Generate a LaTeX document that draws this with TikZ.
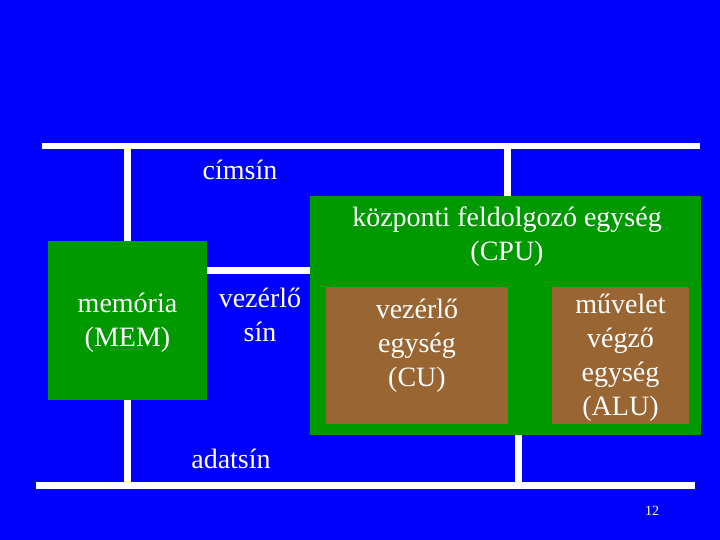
\documentclass[tikz,border=0pt]{standalone}
\usepackage{fontspec}
\setmainfont{Liberation Serif}
\usetikzlibrary{positioning}
\definecolor{slideblue}{RGB}{0,0,255}
\definecolor{unitgreen}{RGB}{0,153,0}
\definecolor{unitbrown}{RGB}{153,102,51}

\begin{document}
\begin{tikzpicture}[x=1pt,y=-1pt,
  unit/.style={fill=unitgreen,draw=none,inner sep=0pt,text=white,align=center,font=\fontsize{28}{34}\selectfont},
  subunit/.style={unit,fill=unitbrown},
  buslabel/.style={text=white,align=center,font=\fontsize{28}{34}\selectfont},
  bus/.style={white,line width=6.5pt}]
\fill[slideblue] (0,0) rectangle (720,540);

% egysegek
\node[unit,minimum width=159pt,minimum height=159pt] (mem) at (127.5,320.5) {};
\node[buslabel] (memtext) at (127.5,322.5) {memória\\(MEM)};
\node[unit,minimum width=391pt,minimum height=239pt] (cpu) at (505.5,315.5) {};
\node[buslabel] (cputitle) at (507,237) {központi feldolgozó egység\\(CPU)};
\node[subunit,minimum width=182pt,minimum height=137pt] (cu) at (417,355.5) {};
\node[buslabel] (cutext) at (417,345.5) {vezérlő\\egység\\(CU)};
\node[subunit,minimum width=137pt,minimum height=137pt] (alu) at (620.5,355.5) {};
\node[buslabel] (alutext) at (620.5,357.5) {művelet\\végző\\egység\\(ALU)};

% sinek
\coordinate (addrL) at (42,146);
\coordinate (addrR) at (700,146);
\coordinate (ctrl) at (0,270.5);
\coordinate (dataL) at (36,485.5);
\coordinate (dataR) at (695,485.5);
\coordinate (cpudown) at (518.5,435);
\draw[bus] (addrL) -- (addrR);
\draw[bus] (mem.north) -- (mem.north |- addrL);
\draw[bus] ([xshift=2pt]cpu.north) -- ([xshift=2pt]cpu.north |- addrL);
\draw[bus] (mem.east |- ctrl) -- (cpu.west |- ctrl);
\draw[bus] (dataL) -- (dataR);
\draw[bus] (mem.south) -- (mem.south |- dataL);
\draw[bus] (cpudown) -- (cpudown |- dataL);

\node[buslabel] (addrname) at (240,170) {címsín};
\node[buslabel] (ctrlname) at (260,315) {vezérlő\\sín};
\node[buslabel] (dataname) at (231,459) {adatsín};
\node[text=white,font=\fontsize{14}{16}\selectfont] (pagenum) at (652,511) {12};
\end{tikzpicture}
\end{document}
